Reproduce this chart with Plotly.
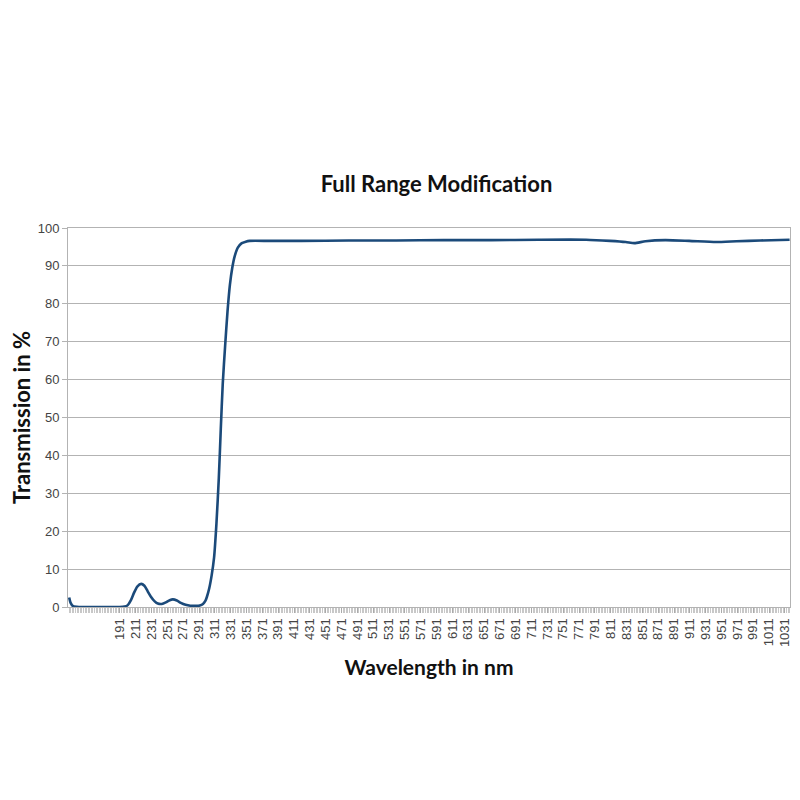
import plotly.graph_objects as go

wavelength = [127, 129, 132, 140, 160, 190, 197, 201, 205, 209, 213, 218, 222, 226, 230, 235, 239, 244, 249, 254, 258,
              263, 268, 274, 280, 287, 292, 296, 299, 301, 304, 307, 310, 313, 316, 318.5, 321, 324, 327, 330,
              333, 336, 340, 345, 350, 355, 380, 420, 480, 540, 600, 660, 720, 780, 810, 830, 841, 855, 880,
              910, 944, 970, 1000, 1037]
transmission = [2.5, 1.0, 0.2, 0.0, 0.0, 0.0, 0.1, 0.5, 1.8, 3.8, 5.4, 6.1, 5.6, 4.2, 2.8, 1.5, 0.9, 0.8, 1.2, 1.8, 2.0,
                1.7, 1.1, 0.6, 0.35, 0.3, 0.4, 0.8, 1.6, 2.7, 5.0, 8.4, 13, 22, 34, 47, 59, 69, 78, 85,
                89.5, 92.5, 94.8, 96.0, 96.4, 96.6, 96.6, 96.6, 96.7, 96.7, 96.8, 96.8, 96.9, 96.9, 96.6, 96.3, 96.0, 96.5, 96.8,
                96.6, 96.3, 96.5, 96.7, 96.9]

tick_vals = list(range(191, 1032, 20))
tick_text = [str(v) for v in tick_vals]
y_ticks = list(range(0, 101, 10))

fig = go.Figure()
fig.add_trace(go.Scatter(
    x=wavelength, y=transmission, mode="lines",
    line=dict(color="#1b4a7a", width=2.6, shape="spline", smoothing=0.6),
    showlegend=False,
))

fig.update_layout(
    width=800, height=800,
    paper_bgcolor="white", plot_bgcolor="white",
    margin=dict(l=60, r=18, t=220, b=201, autoexpand=False),
    title=dict(text="<b>Full Range Modification</b>", x=428.5 / 800, xanchor="center",
               y=1 - 176 / 800, yanchor="middle",
               font=dict(family="Lato", size=22, color="#111")),
    font=dict(family="Liberation Sans", size=13, color="#444"),
)

fig.update_xaxes(
    range=[125.5, 1037.5], automargin=False,
    tickmode="array", tickvals=tick_vals, ticktext=tick_text,
    tickangle=-90, tickfont=dict(family="Liberation Sans", size=13, color="#444"),
    ticks="outside", ticklen=5, tickcolor="#aaaaaa",
    minor=dict(dtick=2, tick0=1, ticks="outside", ticklen=5, tickcolor="#c8c8c8", showgrid=False),
    showgrid=False, zeroline=False,
    showline=True, linecolor="#b3b3b3", linewidth=1, mirror=True,
    title=dict(text="<b>Wavelength in nm</b>", font=dict(family="Lato", size=21, color="#111"), standoff=14),
)
fig.update_yaxes(
    range=[0, 100], automargin=False, tickmode="array", tickvals=y_ticks,
    tickfont=dict(family="Liberation Sans", size=13, color="#444"),
    ticks="outside", ticklen=5, tickcolor="#b3b3b3",
    showgrid=True, gridcolor="#b3b3b3", gridwidth=1, zeroline=False,
    showline=True, linecolor="#b3b3b3", linewidth=1, mirror=True,
    title=dict(text="<b>Transmission in %</b>", font=dict(family="Lato", size=22, color="#111"), standoff=5),
)

fig.write_html("out.html")
